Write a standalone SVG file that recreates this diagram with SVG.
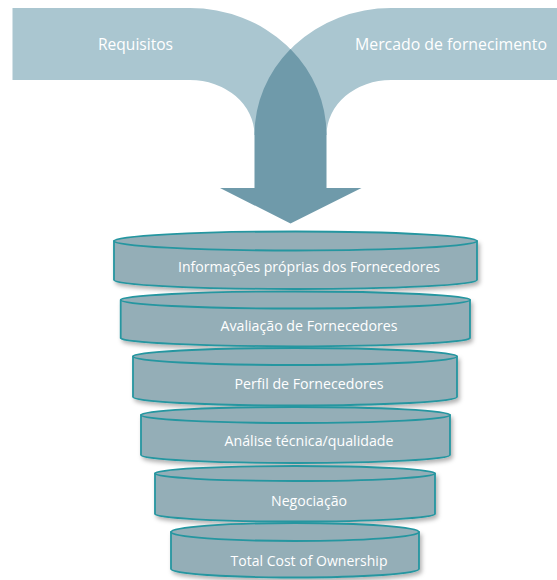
<svg xmlns="http://www.w3.org/2000/svg" width="557" height="580" viewBox="0 0 557 580">
  <defs>
    <filter id="discShadow" x="-10%" y="-30%" width="120%" height="180%">
      <feDropShadow dx="2" dy="3" stdDeviation="2" flood-color="#000000" flood-opacity="0.3"/>
    </filter>
  </defs>
  <style>
    .band { fill: #aac6d0; }
    .flow { fill: #6f9aaa; }
    .body { fill: #94aeb7; stroke: #2596a0; stroke-width: 1.8; stroke-linejoin: round; }
    .top { fill: #94aeb7; stroke: #2596a0; stroke-width: 1.8; }
    .bandLabel { font-family: "Open Sans", "Liberation Sans", sans-serif; font-size: 16.5px; fill: #ffffff; }
    .label { font-family: "Open Sans", "Liberation Sans", sans-serif; font-size: 14px; fill: #ffffff; text-anchor: middle; }
  </style>
  <rect width="557" height="580" fill="#ffffff"/>

  <!-- inflow bands -->
  <g id="requisitos">
    <path class="band" d="M12.5,8 H190 A136.5 127 0 0 1 326.5,135 H254.5 A64.5 55 0 0 0 190,80 H12.5 Z"/>
    <text class="bandLabel" x="98" y="50" textLength="75" lengthAdjust="spacingAndGlyphs">Requisitos</text>
  </g>
  <g id="mercado">
    <path class="band" d="M557,8 H391 A136.5 127 0 0 0 254.5,135 H326.5 A64.5 55 0 0 1 391,80 H557 Z"/>
    <text class="bandLabel" x="355" y="50" textLength="192" lengthAdjust="spacingAndGlyphs">Mercado de fornecimento</text>
  </g>

  <!-- merged flow and down arrow -->
  <g id="connectors">
    <path class="flow" d="M290.5,49 A136.5 127 0 0 0 254.5,135 V188 H220 L290.5,223.5 L361.5,188 H326.5 V135 A136.5 127 0 0 0 290.5,49 Z"/>
  </g>

  <!-- stacked discs -->
  <g id="informacoes">
    <path class="body" filter="url(#discShadow)" d="M114,241 V280 A181.5 9 0 0 0 477,280 V241 Z"/>
    <ellipse class="top" cx="295.5" cy="241" rx="181.5" ry="9.5"/>
    <text class="label" x="309" y="272" textLength="262" lengthAdjust="spacingAndGlyphs">Informações próprias dos Fornecedores</text>
  </g>
  <g id="avaliacao">
    <path class="body" filter="url(#discShadow)" d="M120.7,300 V338 A174.7 8.5 0 0 0 470,338 V300 Z"/>
    <ellipse class="top" cx="295.4" cy="300" rx="174.7" ry="8.5"/>
    <text class="label" x="309" y="331" textLength="177" lengthAdjust="spacingAndGlyphs">Avaliação de Fornecedores</text>
  </g>
  <g id="perfil">
    <path class="body" filter="url(#discShadow)" d="M133,356.5 V397 A162 8.5 0 0 0 457,397 V356.5 Z"/>
    <ellipse class="top" cx="295" cy="356.5" rx="162" ry="8.5"/>
    <text class="label" x="309" y="389" textLength="149" lengthAdjust="spacingAndGlyphs">Perfil de Fornecedores</text>
  </g>
  <g id="analise">
    <path class="body" filter="url(#discShadow)" d="M141,415 V455 A154.5 8 0 0 0 450,455 V415 Z"/>
    <ellipse class="top" cx="295.5" cy="415" rx="154.5" ry="8"/>
    <text class="label" x="309" y="446" textLength="169" lengthAdjust="spacingAndGlyphs">Análise técnica/qualidade</text>
  </g>
  <g id="negociacao">
    <path class="body" filter="url(#discShadow)" d="M155,473.5 V514 A140 7.5 0 0 0 435,514 V473.5 Z"/>
    <ellipse class="top" cx="295" cy="473.5" rx="140" ry="7.5"/>
    <text class="label" x="309" y="506" textLength="76" lengthAdjust="spacingAndGlyphs">Negociação</text>
  </g>
  <g id="tco">
    <path class="body" filter="url(#discShadow)" d="M171,532 V569 A124 8.5 0 0 0 419,569 V532 Z"/>
    <ellipse class="top" cx="295" cy="532" rx="124" ry="9"/>
    <text class="label" x="309" y="566" textLength="157" lengthAdjust="spacingAndGlyphs">Total Cost of Ownership</text>
  </g>
</svg>
